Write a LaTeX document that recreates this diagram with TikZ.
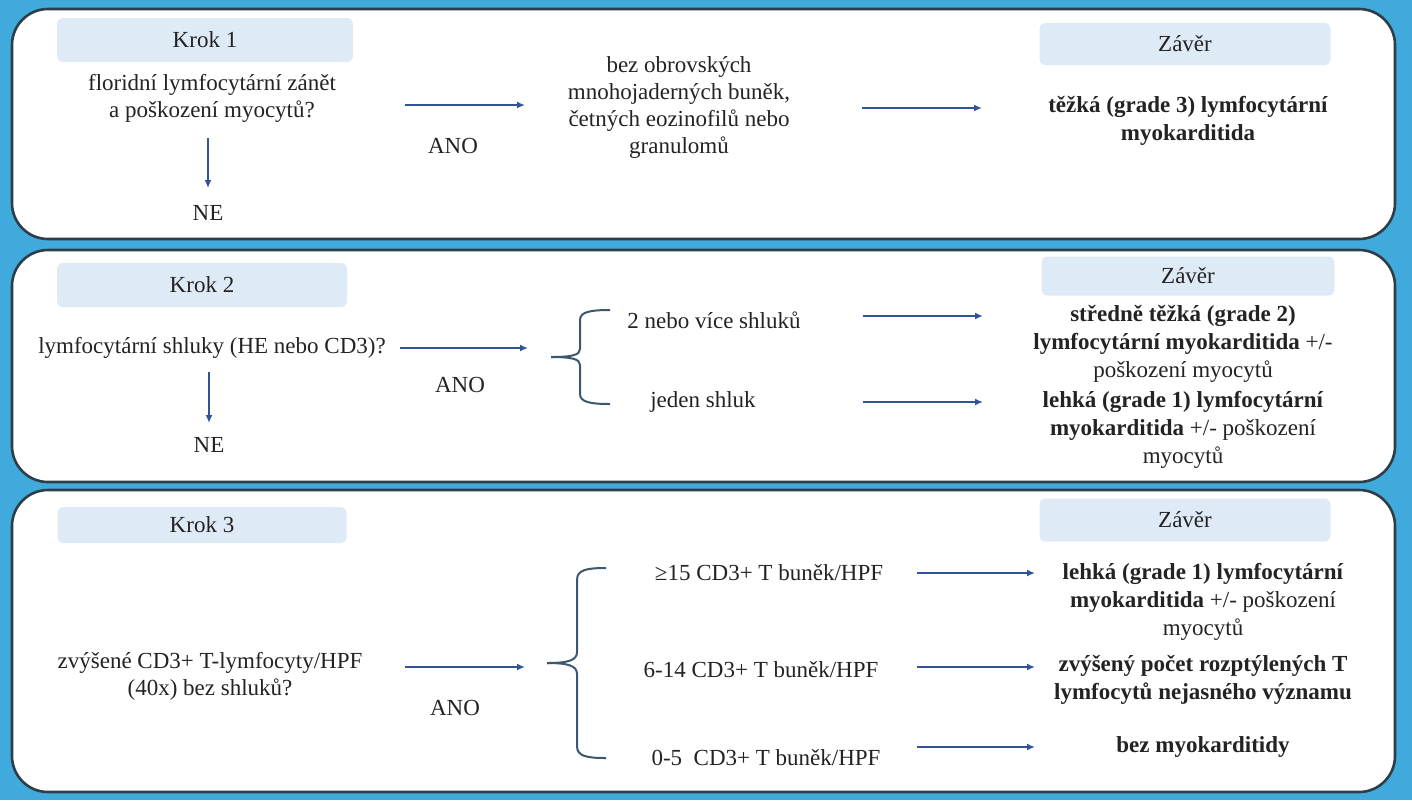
\documentclass[tikz,border=0pt]{standalone}
\usepackage{fontspec}
\setmainfont{Liberation Serif}
\usetikzlibrary{arrows.meta}
\definecolor{bgblue}{RGB}{64,170,221}
\definecolor{framec}{RGB}{45,62,72}
\definecolor{boxfill}{RGB}{222,234,246}
\definecolor{arrc}{RGB}{47,85,151}
\definecolor{bracec}{RGB}{60,88,112}
\definecolor{txt}{RGB}{35,35,35}
\tikzset{
	panel/.style={draw=framec,line width=1.3pt,fill=white,rounded corners=18pt},
	labbox/.style={fill=boxfill,rounded corners=3pt,inner sep=0pt,text=txt,font=\fontsize{11.5}{13.5}\selectfont},
	qtxt/.style={align=center,inner sep=0pt,text=txt,font=\fontsize{11.5}{13.5}\selectfont},
	restxt/.style={align=center,inner sep=0pt,text=txt,font=\fontsize{11.5}{14}\selectfont},
	arr/.style={draw=arrc,line width=1pt,-{Latex[length=4pt,width=3.5pt]}},
	brc/.style={draw=bracec,line width=1pt},
}
\begin{document}
\begin{tikzpicture}[x=0.5pt,y=-0.5pt]
	\fill[bgblue] (0,0) rectangle (1412,800);
	\draw[panel] (12,9) rectangle (1395,239);
	\draw[panel] (12,250) rectangle (1395,482);
	\draw[panel] (12,490) rectangle (1395,792);

	\node[labbox,minimum width=148pt,minimum height=22pt] (krok1) at (205,40) {Krok 1};
	\node[labbox,minimum width=145pt,minimum height=22pt] (krok2) at (202,285) {Krok 2};
	\node[labbox,minimum width=144.5pt,minimum height=18pt] (krok3) at (202,525) {Krok 3};
	\node[labbox,minimum width=145.5pt,minimum height=21pt] (zaver1) at (1185,44) {Závěr};
	\node[labbox,minimum width=146.5pt,minimum height=19.5pt] (zaver2) at (1188,276) {Závěr};
	\node[labbox,minimum width=145.5pt,minimum height=21.5pt] (zaver3) at (1185,520) {Závěr};

	\node[qtxt] (q1) at (212,98) {floridní lymfocytární zánět\\a poškození myocytů?};
	\node[qtxt] (ne1) at (208,213) {NE};
	\node[qtxt] (ano1) at (453,146) {ANO};
	\node[qtxt] (mid1) at (679,107) {bez obrovských\\mnohojaderných buněk,\\četných eozinofilů nebo\\granulomů};
	\node[restxt] (res1) at (1188,121) {\textbf{těžká (grade 3) lymfocytární}\\\textbf{myokarditida}};
	\coordinate (d1s) at (208,138);
	\coordinate (d1e) at (208,188);
	\coordinate (a1s) at (405,105);
	\coordinate (a1e) at (525,105);
	\coordinate (r1s) at (862,108);
	\coordinate (r1e) at (982,108);
	\draw[arr] (d1s) -- (d1e);
	\draw[arr] (a1s) -- (a1e);
	\draw[arr] (r1s) -- (r1e);

	\node[qtxt] (q2) at (212,348) {lymfocytární shluky (HE nebo CD3)?};
	\node[qtxt] (ne2) at (209,445) {NE};
	\node[qtxt] (ano2) at (460,385) {ANO};
	\node[qtxt] (sh2a) at (714,320) {2 nebo více shluků};
	\node[qtxt] (sh2b) at (703,402) {jeden shluk};
	\node[restxt] (res2a) at (1183,344) {\textbf{středně těžká (grade 2)}\\\textbf{lymfocytární myokarditida} +/-\\poškození myocytů};
	\node[restxt] (res2b) at (1183,430) {\textbf{lehká (grade 1) lymfocytární}\\\textbf{myokarditida} +/- poškození\\myocytů};
	\coordinate (d2s) at (209,372);
	\coordinate (d2e) at (209,423);
	\coordinate (a2s) at (400,348);
	\coordinate (a2e) at (528,348);
	\coordinate (r2as) at (863,316);
	\coordinate (r2ae) at (983,316);
	\coordinate (r2bs) at (863,402);
	\coordinate (r2be) at (983,402);
	\draw[arr] (d2s) -- (d2e);
	\draw[arr] (a2s) -- (a2e);
	\draw[arr] (r2as) -- (r2ae);
	\draw[arr] (r2bs) -- (r2be);
	\draw[brc] (610,310) .. controls (590,310) and (580,312) .. (580,320) -- (580,349) .. controls (580,355) and (572,357) .. (551,357);
	\draw[brc] (610,404) .. controls (590,404) and (580,402) .. (580,394) -- (580,365) .. controls (580,359) and (572,357) .. (551,357);

	\node[qtxt] (q3) at (210,676) {zvýšené CD3+ T-lymfocyty/HPF\\(40x) bez shluků?};
	\node[qtxt] (ano3) at (455,708) {ANO};
	\node[qtxt] (cnt3a) at (769,573) {≥15 CD3+ T buněk/HPF};
	\node[qtxt] (cnt3b) at (761,670) {6-14 CD3+ T buněk/HPF};
	\node[qtxt] (cnt3c) at (766,758) {0-5\ \ CD3+ T buněk/HPF};
	\node[restxt] (res3a) at (1203,602) {\textbf{lehká (grade 1) lymfocytární}\\\textbf{myokarditida} +/- poškození\\myocytů};
	\node[restxt] (res3b) at (1203,680) {\textbf{zvýšený počet rozptýlených T}\\\textbf{lymfocytů nejasného významu}};
	\node[restxt] (res3c) at (1203,747) {\textbf{bez myokarditidy}};
	\coordinate (a3s) at (405,667);
	\coordinate (a3e) at (525,667);
	\coordinate (r3as) at (917,573);
	\coordinate (r3ae) at (1035,573);
	\coordinate (r3bs) at (917,667);
	\coordinate (r3be) at (1035,667);
	\coordinate (r3cs) at (917,747);
	\coordinate (r3ce) at (1035,747);
	\draw[arr] (a3s) -- (a3e);
	\draw[arr] (r3as) -- (r3ae);
	\draw[arr] (r3bs) -- (r3be);
	\draw[arr] (r3cs) -- (r3ce);
	\draw[brc] (606,568) .. controls (586,568) and (577,570) .. (577,580) -- (577,652) .. controls (577,660) and (569,663) .. (547,663);
	\draw[brc] (606,758) .. controls (586,758) and (577,756) .. (577,746) -- (577,674) .. controls (577,666) and (569,663) .. (547,663);
\end{tikzpicture}
\end{document}
